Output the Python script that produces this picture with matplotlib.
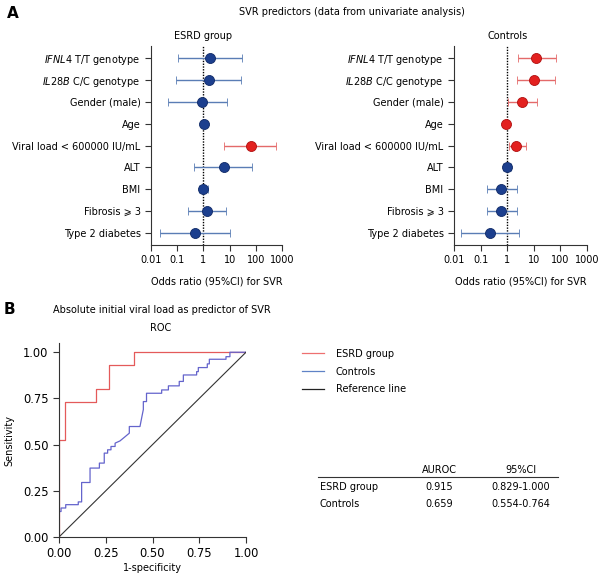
import numpy as np
import matplotlib
matplotlib.use('Agg')
import matplotlib.pyplot as plt
from matplotlib.lines import Line2D

plt.rcParams['font.family'] = 'DejaVu Sans'
plt.rcParams['mathtext.fontset'] = 'dejavusans'

fs = 7

# Forest plot data (odds ratio, lower CI, upper CI)
predictors = [r'$\mathit{IFNL4}$ T/T genotype', r'$\mathit{IL28B}$ C/C genotype',
              'Gender (male)', 'Age', 'Viral load < 600000 IU/mL', 'ALT', 'BMI',
              'Fibrosis \u2a7e 3', 'Type 2 diabetes']

esrd_or = [1.8, 1.6, 0.9, 1.05, 64, 6.2, 1.0, 1.35, 0.47]
esrd_lo = [0.11, 0.09, 0.046, 1.0, 6.2, 0.42, 0.66, 0.26, 0.023]
esrd_hi = [30, 27, 8, 1.1, 570, 74, 1.5, 7.2, 10.5]
esrd_sig = [False, False, False, False, True, False, False, False, False]

ctrl_or = [12, 10, 3.5, 0.9, 2.2, 1.0, 0.56, 0.56, 0.22]
ctrl_lo = [2.5, 2.3, 1.05, 0.88, 1.12, 0.67, 0.17, 0.17, 0.018]
ctrl_hi = [68, 63, 13, 0.92, 5.2, 1.4, 2.4, 2.4, 2.8]
ctrl_sig = [True, True, True, True, True, False, False, False, False]

xticks = [0.01, 0.1, 1, 10, 100, 1000]
xtick_labels = ['0.01', '0.1', '1', '10', '100', '1000']

# ROC data
esrd_fpr = [0.0, 0.0, 0.033, 0.033, 0.2, 0.2, 0.27, 0.27, 0.4, 0.4, 1.0]
esrd_tpr = [0.0, 0.523, 0.523, 0.733, 0.733, 0.8, 0.8, 0.933, 0.933, 1.0, 1.0]

ctrl_fpr = [0.0, 0.0, 0.0, 0.011, 0.011, 0.036, 0.036, 0.103, 0.103, 0.121, 0.121,
            0.166, 0.166, 0.216, 0.216, 0.242, 0.242, 0.26, 0.26, 0.278, 0.278,
            0.30, 0.30, 0.326, 0.35, 0.376, 0.376, 0.433, 0.445, 0.451, 0.451,
            0.468, 0.468, 0.549, 0.549, 0.585, 0.585, 0.643, 0.643, 0.665, 0.665,
            0.736, 0.736, 0.745, 0.745, 0.793, 0.793, 0.804, 0.804, 0.893, 0.893,
            0.914, 0.914, 1.0]
ctrl_tpr = [0.0, 0.094, 0.138, 0.138, 0.157, 0.157, 0.175, 0.175, 0.19, 0.19, 0.295,
            0.295, 0.373, 0.373, 0.40, 0.40, 0.454, 0.454, 0.472, 0.472, 0.49,
            0.49, 0.508, 0.52, 0.54, 0.562, 0.598, 0.598, 0.66, 0.69, 0.733,
            0.733, 0.778, 0.778, 0.796, 0.796, 0.818, 0.818, 0.842, 0.842, 0.877,
            0.877, 0.895, 0.895, 0.917, 0.917, 0.937, 0.937, 0.962, 0.962, 0.976,
            0.976, 1.0, 1.0]

table_groups = ['ESRD group', 'Controls']
table_auroc = ['0.915', '0.659']
table_ci = ['0.829-1.000', '0.554-0.764']

W, H = 604, 577
fig = plt.figure(figsize=(W / 100, H / 100), dpi=100)


def px_ax(x0, y0, x1, y1):
    return fig.add_axes([x0 / W, 1 - y1 / H, (x1 - x0) / W, (y1 - y0) / H])


def forest(ax, orv, lo, hi, sig, title):
    n = len(orv)
    y = np.arange(n)
    for i in range(n):
        if sig[i]:
            lc, mc, ec = '#e46a6a', '#e3211f', '#b01010'
        else:
            lc, mc, ec = '#5a7db5', '#1c3f8e', '#102a66'
        ax.errorbar(orv[i], y[i], xerr=[[orv[i] - lo[i]], [hi[i] - orv[i]]],
                    fmt='o', color=lc, ecolor=lc, elinewidth=1.0, capsize=3,
                    capthick=1.0, ms=7.2, mfc=mc, mec=ec, mew=0.6, zorder=3)
    ax.axvline(1, color='black', ls=(0, (1, 1)), lw=1.0, zorder=2)
    ax.set_xscale('log')
    ax.set_xlim(0.01, 1000)
    ax.set_ylim(n - 1 + 0.55, -0.55)
    ax.set_yticks(y)
    ax.set_yticklabels(predictors, fontsize=fs)
    ax.set_xticks(xticks)
    ax.set_xticklabels(xtick_labels, fontsize=fs)
    ax.xaxis.set_minor_locator(matplotlib.ticker.NullLocator())
    ax.tick_params(length=4, width=0.8, colors='#333333', labelcolor='black')
    for s in ['top', 'right']:
        ax.spines[s].set_visible(False)
    for s in ['left', 'bottom']:
        ax.spines[s].set_color('#333333')
        ax.spines[s].set_linewidth(0.8)
    ax.set_xlabel('Odds ratio (95%CI) for SVR', fontsize=fs, labelpad=8)
    ax.text(1, -0.8, title, ha='center', va='bottom', fontsize=fs,
            transform=ax.transData)


ax1 = px_ax(151, 46, 282, 245)
forest(ax1, esrd_or, esrd_lo, esrd_hi, esrd_sig, 'ESRD group')
ax2 = px_ax(454, 46, 587, 245)
forest(ax2, ctrl_or, ctrl_lo, ctrl_hi, ctrl_sig, 'Controls')

fig.text(352 / W, 1 - 12 / H, 'SVR predictors (data from univariate analysis)',
         ha='center', va='center', fontsize=fs)
fig.text(7 / W, 1 - 14 / H, 'A', ha='left', va='center', fontsize=11, fontweight='bold')
fig.text(4 / W, 1 - 310 / H, 'B', ha='left', va='center', fontsize=11, fontweight='bold')

# ROC panel
ax3 = px_ax(59, 343, 246, 537)
l1, = ax3.plot(esrd_fpr, esrd_tpr, color='#e45a5a', lw=0.9, label='ESRD group')
l2, = ax3.plot(ctrl_fpr, ctrl_tpr, color='#6464cc', lw=0.9, label='Controls')
l3, = ax3.plot([0, 1], [0, 1], color='#333333', lw=0.8, label='Reference line')
ax3.set_xlim(0, 1.0)
ax3.set_ylim(0, 1.05)
ticks = [0, 0.25, 0.5, 0.75, 1.0]
ax3.set_xticks(ticks)
ax3.set_yticks(ticks)
ax3.set_xticklabels(['%.2f' % t for t in ticks], fontsize=8.3)
ax3.set_yticklabels(['%.2f' % t for t in ticks], fontsize=8.3)
ax3.tick_params(length=4, width=0.8, colors='#333333', labelcolor='black')
for s in ['top', 'right']:
    ax3.spines[s].set_visible(False)
for s in ['left', 'bottom']:
    ax3.spines[s].set_color('#333333')
    ax3.spines[s].set_linewidth(0.8)
ax3.set_xlabel('1-specificity', fontsize=fs, labelpad=2)
ax3.set_ylabel('Sensitivity', fontsize=fs, labelpad=6)
fig.text(162 / W, 1 - 310 / H, 'Absolute initial viral load as predictor of SVR',
         ha='center', va='center', fontsize=fs)
fig.text(161 / W, 1 - 328 / H, 'ROC', ha='center', va='center', fontsize=fs)

leg_lines = [Line2D([], [], color='#ee7070', lw=0.9),
             Line2D([], [], color='#5f82c6', lw=0.9),
             Line2D([], [], color='#222222', lw=0.9)]
fig.legend(leg_lines, [l1.get_label(), l2.get_label(), l3.get_label()],
           loc='upper left', bbox_to_anchor=(293 / W, 1 - 340 / H),
           frameon=False, fontsize=fs, handlelength=2.3, handletextpad=1.2,
           labelspacing=0.8)

# AUROC table
fig.text(439 / W, 1 - 470 / H, 'AUROC', ha='center', va='center', fontsize=fs)
fig.text(521 / W, 1 - 470 / H, '95%CI', ha='center', va='center', fontsize=fs)
fig.add_artist(Line2D([318 / W, 558 / W], [1 - 477 / H, 1 - 477 / H],
                      color='#333333', lw=0.8))
row_y = [487, 504]
for i in range(len(table_groups)):
    fig.text(320 / W, 1 - row_y[i] / H, table_groups[i], ha='left', va='center', fontsize=fs)
    fig.text(439 / W, 1 - row_y[i] / H, table_auroc[i], ha='center', va='center', fontsize=fs)
    fig.text(521 / W, 1 - row_y[i] / H, table_ci[i], ha='center', va='center', fontsize=fs)

fig.savefig('out.png', dpi=100)
